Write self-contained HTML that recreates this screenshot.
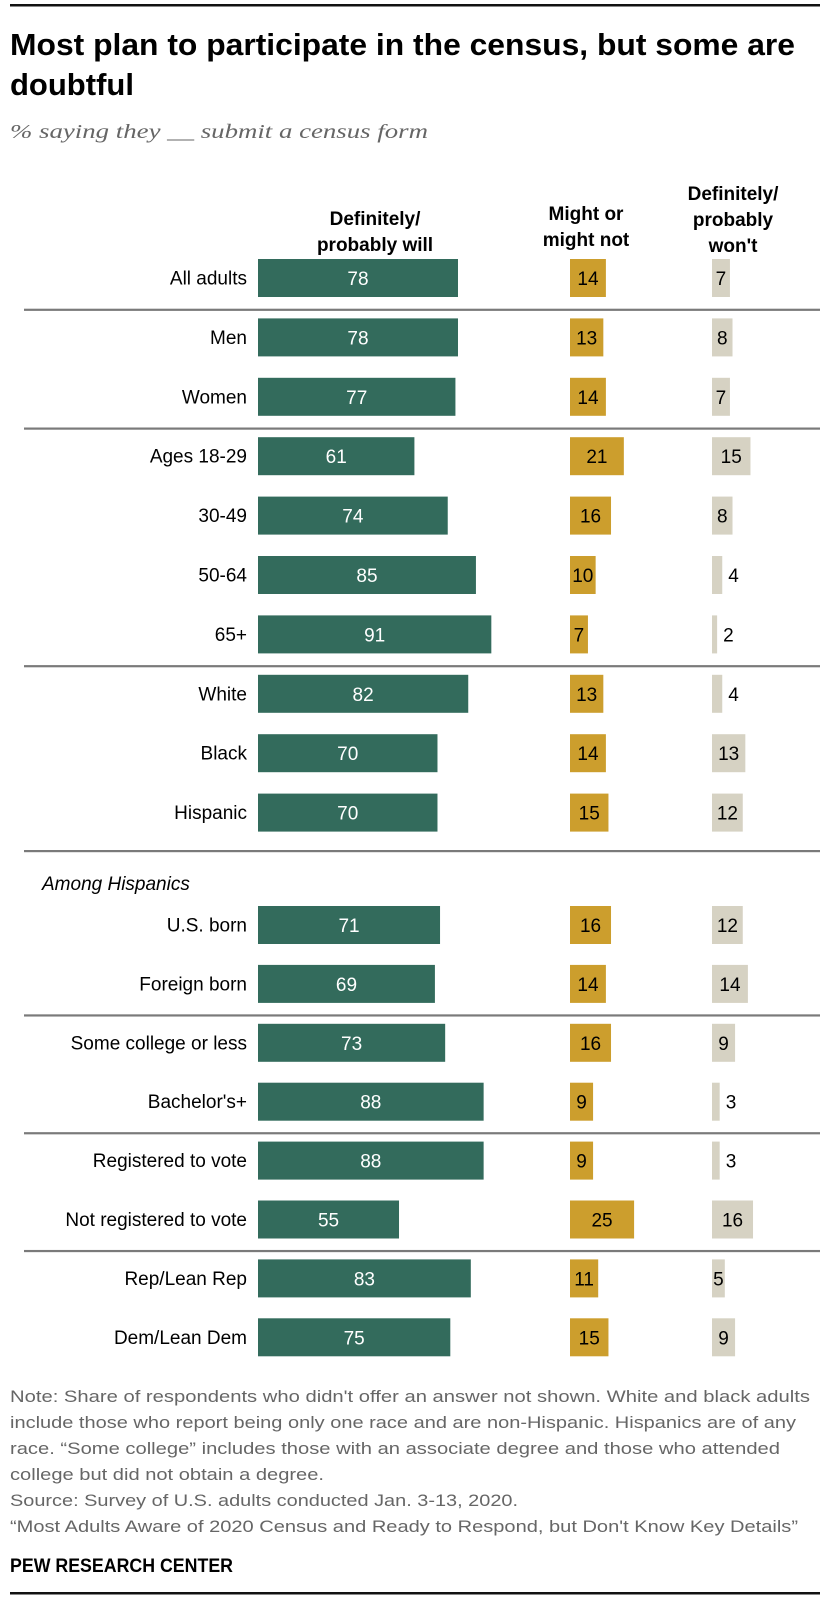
<!DOCTYPE html>
<html><head><meta charset="utf-8">
<style>
html,body{margin:0;padding:0;background:#fff;}
svg{display:block;}
text{font-family:"Liberation Sans Narrow","Liberation Sans",sans-serif;}
</style></head>
<body>
<svg id="chart" width="830" height="1604" viewBox="0 0 830 1604" xmlns="http://www.w3.org/2000/svg">
  <rect x="10" y="4" width="810" height="2.5" fill="#111"/>
  <text x="10" y="55" font-size="31" font-weight="bold" fill="#000" textLength="785" lengthAdjust="spacingAndGlyphs">Most plan to participate in the census, but some are</text>
  <text x="10" y="95" font-size="31" font-weight="bold" fill="#000">doubtful</text>
  <text x="10" y="138" font-size="20" font-style="italic" fill="#666" style="font-family:'Liberation Serif',serif" textLength="418" lengthAdjust="spacingAndGlyphs">% saying they __ submit a census form</text>

  <g font-size="19" font-weight="bold" text-anchor="middle">
    <text x="375" y="225">Definitely/</text>
    <text x="375" y="251">probably will</text>
  </g>
  <g font-size="19" font-weight="bold" text-anchor="middle">
    <text x="586" y="220">Might or</text>
    <text x="586" y="246">might not</text>
  </g>
  <g font-size="19" font-weight="bold" text-anchor="middle">
    <text x="733" y="200">Definitely/</text>
    <text x="733" y="226">probably</text>
    <text x="733" y="252">won't</text>
  </g>

  <text x="42" y="890" font-size="19" font-style="italic" fill="#000" style="font-family:'Liberation Sans',sans-serif">Among Hispanics</text>

  <g id="rows"></g>

  <g font-size="17" fill="#666">
    <text x="10" y="1402" textLength="800" lengthAdjust="spacingAndGlyphs">Note: Share of respondents who didn't offer an answer not shown. White and black adults</text>
    <text x="10" y="1428" textLength="786" lengthAdjust="spacingAndGlyphs">include those who report being only one race and are non-Hispanic. Hispanics are of any</text>
    <text x="10" y="1454" textLength="770" lengthAdjust="spacingAndGlyphs">race. “Some college” includes those with an associate degree and those who attended</text>
    <text x="10" y="1480" textLength="314" lengthAdjust="spacingAndGlyphs">college but did not obtain a degree.</text>
    <text x="10" y="1506" textLength="508" lengthAdjust="spacingAndGlyphs">Source: Survey of U.S. adults conducted Jan. 3-13, 2020.</text>
    <text x="10" y="1532" textLength="788" lengthAdjust="spacingAndGlyphs">“Most Adults Aware of 2020 Census and Ready to Respond, but Don't Know Key Details”</text>
  </g>
  <text x="10" y="1572" font-size="19" font-weight="bold" fill="#000" textLength="223" lengthAdjust="spacingAndGlyphs">PEW RESEARCH CENTER</text>
  <rect x="10" y="1592" width="810" height="2.5" fill="#111"/>
</svg>
<script>
const categories = ["All adults","Men","Women","Ages 18-29","30-49","50-64","65+","White","Black","Hispanic","U.S. born","Foreign born","Some college or less","Bachelor's+","Registered to vote","Not registered to vote","Rep/Lean Rep","Dem/Lean Dem"];
const willValues = [78,78,77,61,74,85,91,82,70,70,71,69,73,88,88,55,83,75];
const mightValues = [14,13,14,21,16,10,7,13,14,15,16,14,16,9,9,25,11,15];
const wontValues = [7,8,7,15,8,4,2,4,13,12,12,14,9,3,3,16,5,9];
const separatorAfter = [0,2,6,9,11,13,15];

const NS = "http://www.w3.org/2000/svg";
const g = document.getElementById("rows");
const UNIT = 2.564;
const X_WILL = 258, X_MIGHT = 570, X_WONT = 712, BAR_H = 38;
function rowY(i){
  if (i < 10) return 278 + i*59.4;
  return 925 + (i-10)*58.9;
}
function sx(v){ return v*UNIT; }
function mk(tag, attrs){
  const e = document.createElementNS(NS, tag);
  for (const k in attrs) e.setAttribute(k, attrs[k]);
  return e;
}
function sepY(i){
  if (i === 9) return 851;
  return (rowY(i) + rowY(i+1))/2 + 2;
}
separatorAfter.forEach(function(i){
  const l = mk("rect",{x:24,y:sepY(i)-1,width:796,height:2.2,fill:"#7a7a7a"});
  
  
  g.appendChild(l);
});
categories.forEach(function(cat,i){
  const cy = rowY(i);
  const lab = mk("text",{x:247,y:cy+6.5,"font-size":19,"text-anchor":"end",fill:"#000",style:"font-family:'Liberation Sans',sans-serif"});
  lab.textContent = cat;
  
  
  g.appendChild(lab);

  const w = sx(willValues[i]);
  const b1 = mk("rect",{x:X_WILL,y:cy-BAR_H/2,width:w,height:BAR_H,fill:"#336b5c"});
  
  
  g.appendChild(b1);
  const t1 = mk("text",{x:X_WILL+w/2,y:cy+7,"font-size":19,"text-anchor":"middle",fill:"#fff"});
  t1.textContent = willValues[i];
  
  
  g.appendChild(t1);

  const m = sx(mightValues[i]);
  const b2 = mk("rect",{x:X_MIGHT,y:cy-BAR_H/2,width:m,height:BAR_H,fill:"#cc9e2d"});
  
  
  g.appendChild(b2);
  const t2 = mk("text",{x:Math.max(X_MIGHT+m/2, X_MIGHT+ (mightValues[i]>=10?10:5)),y:cy+7,"font-size":19,"text-anchor":"middle",fill:"#000"});
  t2.textContent = mightValues[i];
  
  
  g.appendChild(t2);

  const n = sx(wontValues[i]);
  const b3 = mk("rect",{x:X_WONT,y:cy-BAR_H/2,width:n,height:BAR_H,fill:"#d6d2c3"});
  
  
  g.appendChild(b3);
  let tx, anchor;
  if (wontValues[i] <= 4) { tx = X_WONT + n + 6; anchor = "start"; }
  else { tx = Math.max(X_WONT + n/2, X_WONT + 6); anchor = "middle"; }
  const t3 = mk("text",{x:tx,y:cy+7,"font-size":19,"text-anchor":anchor,fill:"#000"});
  t3.textContent = wontValues[i];
  
  
  g.appendChild(t3);
});
</script>
</body></html>
